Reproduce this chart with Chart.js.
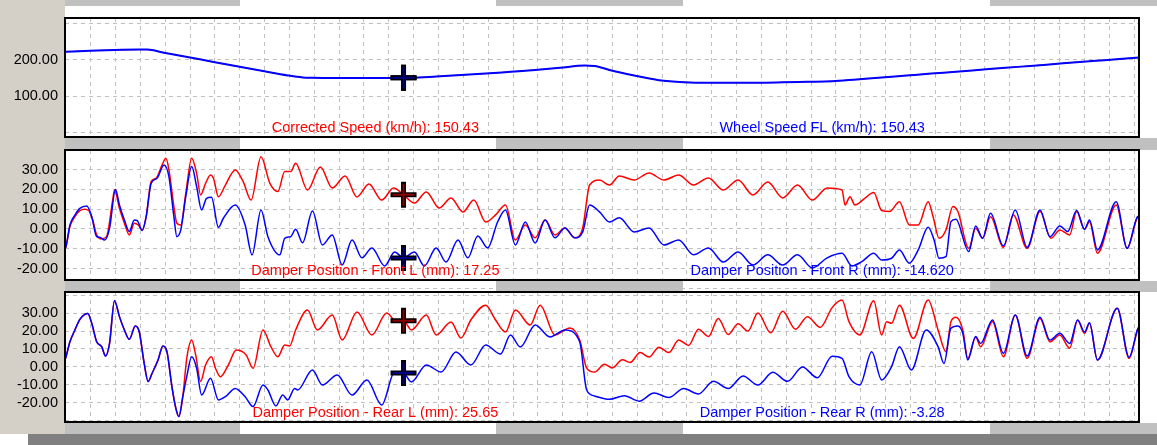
<!DOCTYPE html>
<html>
<head>
<meta charset="utf-8">
<script src="https://cdn.jsdelivr.net/npm/chart.js@4.4.1/dist/chart.umd.min.js"></script>
<style>
    body { margin: 0; width: 1157px; height: 445px; background: #fff; position: relative; overflow: hidden; }
    .blk { position: absolute; }
    canvas { position: absolute; left: 0; top: 0; }
</style>
</head>
<body>
<!-- left gutter, range strips and status bar -->
<div class="blk" style="left:0;top:0;width:65px;height:434px;background:#d4d0c8"></div>
<div class="blk" style="left:65px;top:0;width:175px;height:6px;background:#c0c0c0"></div>
<div class="blk" style="left:496px;top:0;width:187px;height:6px;background:#c0c0c0"></div>
<div class="blk" style="left:990px;top:0;width:167px;height:6px;background:#c0c0c0"></div>
<div class="blk" style="left:65px;top:138px;width:175px;height:12px;background:#c0c0c0"></div>
<div class="blk" style="left:496px;top:138px;width:187px;height:12px;background:#c0c0c0"></div>
<div class="blk" style="left:990px;top:138px;width:167px;height:12px;background:#c0c0c0"></div>
<div class="blk" style="left:65px;top:281px;width:175px;height:11px;background:#c0c0c0"></div>
<div class="blk" style="left:496px;top:281px;width:187px;height:11px;background:#c0c0c0"></div>
<div class="blk" style="left:990px;top:281px;width:167px;height:11px;background:#c0c0c0"></div>
<div class="blk" style="left:65px;top:423px;width:175px;height:11px;background:#c0c0c0"></div>
<div class="blk" style="left:496px;top:423px;width:187px;height:11px;background:#c0c0c0"></div>
<div class="blk" style="left:990px;top:423px;width:167px;height:11px;background:#c0c0c0"></div>
<div class="blk" style="left:28px;top:434px;width:1129px;height:11px;background:#808080"></div>

<canvas id="speedChart" width="1157" height="445"></canvas>
<canvas id="frontChart" width="1157" height="445"></canvas>
<canvas id="rearChart" width="1157" height="445"></canvas>

<script>
// x = logged sample number (50 Hz), cursor sits at sample 342
const cursorSample = 342;
const sampleCount = 1085;

const speedSample = [0, 25, 50, 75, 83, 100, 125, 150, 175, 200, 225, 240, 250, 275, 300, 325, 350, 375, 400, 425, 450, 475, 500, 525, 535, 550, 575, 600, 625, 650, 675, 700, 725, 750, 775, 800, 825, 850, 875, 900, 925, 950, 975, 1000, 1025, 1050, 1075, 1085];
const speedKmh = [222, 225, 227, 228, 228, 219.5, 207, 194, 181.5, 169, 157, 151.5, 150.5, 150, 150, 150, 150.5, 154, 158, 162, 167, 172, 178, 184, 183, 172, 157, 144, 138.5, 137, 137, 137, 138, 139.5, 141, 146, 151, 156.5, 162, 167, 172.5, 178, 183, 188.5, 194, 199, 204, 206];

const frontLSample = [0, 1, 5, 10, 15, 20, 24, 28, 32, 37, 42, 48, 50, 55, 60, 65, 70, 74, 78, 82, 87, 92, 98, 102, 105, 110, 113, 117, 122, 128, 133, 137, 142, 147, 150, 155, 162, 172, 180, 188, 198, 207, 215, 222, 228, 233, 245, 258, 270, 283, 295, 307, 320, 332, 342, 353, 365, 378, 390, 402, 413, 425, 435, 445, 455, 465, 475, 485, 495, 505, 515, 523, 530, 540, 550, 560, 575, 590, 605, 620, 635, 650, 665, 680, 695, 710, 725, 740, 755, 770, 785, 788, 793, 798, 808, 817, 825, 833, 843, 853, 862, 872, 877, 883, 890, 897, 902, 913, 920, 927, 935, 948, 958, 972, 985, 996, 1005, 1015, 1022, 1030, 1035, 1043, 1062, 1073, 1083, 1085];
const frontLMm = [-10, -8.9, 1.2, 6.2, 9.3, 10, 9.3, 4.5, -3, -5, -3.9, 14, 19.7, 10.4, 2.9, -3, 2.9, 2, -0.5, 6.2, 23.9, 25.6, 32.3, 35.7, 29.8, 11.3, 2.9, 2, 18, 35.7, 28, 17.2, 23, 27.3, 25.6, 16.3, 22.2, 29.8, 23.9, 14.6, 36.5, 23, 18.9, 29, 29, 33.2, 19.7, 31.3, 20.7, 26.8, 16.2, 22.7, 14.6, 20.7, 17.25, 13.1, 18.7, 10.6, 15.7, 8.6, 14.6, 3.5, 7.1, 12.1, -5.6, 2, -4.5, 4.5, -3, 0.5, -4.5, 0.5, 22.2, 24.7, 22.2, 26.8, 24.7, 28.3, 24.7, 27.3, 22.2, 25.8, 19.7, 24.7, 17.2, 23.7, 15.7, 22.2, 14.6, 20.7, 19.7, 12.1, 16.3, 12.1, 15.5, 18.4, 9.3, 8.8, 13.8, 2, 2, 13.8, 6.2, -4.7, -0.5, 11.3, 8.8, -9.8, 0.3, -4.7, 6.2, -9.3, 7.1, -9.8, 8.8, -4.7, -0.5, -3, 8.8, -0.2, 3.7, -12.3, 12.1, -9.8, 5.4, 6];

const frontRSample = [0, 1, 5, 10, 15, 22, 27, 32, 35, 40, 45, 51, 55, 60, 65, 70, 73, 78, 82, 87, 93, 100, 105, 110, 113, 117, 122, 128, 133, 138, 143, 148, 155, 160, 172, 182, 189, 198, 205, 217, 222, 228, 233, 240, 250, 260, 270, 280, 290, 300, 310, 323, 333, 342, 353, 363, 375, 385, 397, 407, 417, 427, 437, 445, 455, 465, 475, 485, 495, 505, 515, 523, 530, 540, 550, 560, 575, 590, 605, 620, 635, 650, 665, 680, 695, 710, 725, 740, 755, 770, 785, 795, 805, 817, 825, 835, 843, 853, 862, 872, 878, 883, 890, 895, 900, 913, 920, 927, 935, 948, 960, 972, 985, 995, 1005, 1013, 1022, 1030, 1035, 1043, 1062, 1073, 1083, 1085];
const frontRMm = [-10, -8.9, 2, 7, 10.4, 11.6, 6.2, -3.9, -4.2, -5.6, 0.3, 20, 12.1, 4.5, -1.3, 4.5, 4.2, -0.8, 6.2, 23, 25.6, 32.3, 26.4, 6.2, -3.9, -0.5, 16.3, 31.5, 21.4, 9.6, 15.5, 16, 0.8, 5.4, 12.1, 2, -13.1, 9.6, -3.9, -13.1, -4.7, -3.9, -0.2, -7, 9.1, -8.1, -3, -18.2, -5.6, -14.6, -9.6, -18.7, -11.6, -14.62, -11.6, -18.7, -9.6, -16.7, -5.6, -14.6, -3.5, -9.6, 3.5, 9.6, -8.1, 3.5, -7.1, 4.5, -4.5, 0.5, -4.5, -1.5, 12.1, 8.6, 3.5, 5.6, -1.5, 0.5, -8.1, -5.6, -13.1, -9.6, -16.7, -11.6, -18.2, -13.1, -18.2, -13.1, -19.7, -14.6, -12.3, -18.7, -16.5, -12.3, -15.7, -14.8, -10.6, -17.3, -10.6, 0.8, -5.6, -14.8, -14, 3.7, 4.9, -11.4, 1.5, -4.7, 7.9, -8.6, 9.6, -9.3, 9.6, -3.9, 1.5, -1.3, 9.3, -0.2, 4.5, -10.6, 13.8, -9.8, 5.9, 6.5];

const rearLSample = [0, 1, 5, 10, 15, 20, 23, 27, 32, 37, 41, 45, 50, 55, 60, 65, 71, 75, 80, 84, 88, 94, 99, 103, 108, 112, 115, 119, 123, 128, 132, 137, 142, 148, 152, 157, 165, 173, 183, 190, 200, 208, 215, 222, 227, 233, 245, 255, 270, 280, 295, 310, 325, 335, 342, 350, 365, 375, 390, 400, 410, 425, 435, 445, 455, 470, 480, 495, 510, 520, 527, 535, 545, 553, 563, 571, 581, 590, 600, 610, 620, 630, 640, 650, 660, 670, 680, 690, 700, 713, 725, 738, 750, 763, 775, 785, 792, 803, 817, 825, 830, 835, 843, 857, 872, 882, 890, 895, 900, 907, 912, 920, 925, 937, 948, 960, 972, 985, 995, 1005, 1015, 1023, 1030, 1035, 1043, 1063, 1075, 1084, 1085];
const rearLMm = [4, 5.7, 14, 20.6, 26.5, 29.3, 29.8, 24.3, 14, 11.3, 6.1, 13.1, 36.9, 28, 20.6, 15.4, 22.8, 19.6, 2, -8.1, -3.5, 3.9, 11.7, 8.5, -10.9, -23, -27.6, -16.5, 4.8, 15, 6.7, -8.1, 1.1, 5.7, -0.7, -5.4, 1.1, 9.4, 6.7, -0.7, 20.6, 11.3, 5.7, 12.2, 11.7, 20.6, 31.7, 20.6, 28.9, 15, 30.6, 17.8, 30, 25, 25.65, 20.6, 28.9, 17.8, 25, 16.1, 26.1, 34.4, 26.1, 19.4, 31.7, 23.3, 34.4, 17.8, 21.7, 15, -0.6, -2.8, 1.5, -0.5, 4, 2.5, 8, 5.5, 11, 8, 15, 12, 21, 17, 27, 18, 24, 20, 30, 19, 31, 21, 28, 22, 33, 37.2, 25.2, 17.8, 36.9, 17.8, 25.2, 24.3, 34.4, 15.9, 37.2, 20.6, 8.5, 25.2, 27.6, 20.6, 4.8, 16.5, 11.3, 25.2, 5.7, 28.9, 4.8, 27, 14, 17.8, 10.4, 26.1, 18.7, 24.3, 3.9, 32.6, 4.8, 21.5, 22];

const rearRSample = [0, 1, 5, 10, 15, 20, 23, 27, 32, 37, 41, 45, 50, 55, 60, 65, 71, 75, 80, 84, 88, 94, 99, 103, 108, 112, 115, 119, 123, 128, 133, 138, 147, 155, 162, 172, 182, 190, 200, 205, 213, 220, 225, 232, 235, 250, 260, 275, 290, 305, 320, 333, 342, 350, 365, 380, 395, 410, 425, 440, 450, 460, 475, 490, 505, 520, 527, 535, 550, 565, 580, 595, 610, 625, 640, 655, 670, 685, 700, 715, 730, 745, 760, 775, 785, 792, 803, 815, 825, 835, 843, 855, 870, 882, 888, 895, 902, 907, 912, 920, 925, 937, 948, 960, 972, 985, 995, 1005, 1015, 1023, 1030, 1035, 1043, 1063, 1075, 1084, 1085];
const rearRMm = [4, 5.7, 14, 20.6, 26.5, 29.3, 29.8, 24.3, 14, 11.3, 6.1, 13.1, 36.9, 28, 20.6, 15.4, 22.8, 19.6, 2, -8.1, -3.5, 3.9, 11.7, 8.5, -10.9, -23, -27.6, -16.5, -5.4, 5.7, -0.7, -15.6, -6.3, -18.3, -16.5, -11.9, -16.5, -22, -10, -12.8, -21.7, -15.6, -18.3, -11.9, -12.8, -1.7, -10, -4.4, -15.6, -7.2, -21.1, -2.8, -3.28, -8.3, 1.1, -2.8, 8.3, 1.1, 12.2, 7.2, 17.8, 11.1, 23.3, 16.7, 20.6, 13.9, -12.8, -16.1, -18, -16, -19, -14.5, -17, -12, -15, -8, -12, -5, -10, -3, -8, 0, -6, 6, 4.8, -5.4, -10, 8.5, -7.2, 0.2, 11.3, -1.7, 20.6, 11.3, 2, 21.5, 22.8, 18.7, 3.9, 16.9, 13.1, 26.1, 7.6, 28.9, 6.1, 27.6, 15, 18.7, 13.1, 26.1, 19.4, 24.6, 3.9, 32.6, 5.4, 21.5, 22];

// axis ticks (grid lines) and which of them carry a label
const speedGrid = [0, 100, 200, 300];
const speedLabels = [100, 200];
const damperGrid = [-30, -20, -10, 0, 10, 20, 30, 40];
const damperLabels = [-20, -10, 0, 10, 20, 30];

// channel names and the values read at the cursor
const speedNames = ["Corrected Speed (km/h)", "Wheel Speed FL (km/h)"];
const speedReadout = ["150.43", "150.43"];
const frontNames = ["Damper Position - Front L (mm)", "Damper Position - Front R (mm)"];
const frontReadout = ["17.25", "-14.620"];
const rearNames = ["Damper Position - Rear L (mm)", "Damper Position - Rear R (mm)"];
const rearReadout = ["25.65", "-3.28"];

const RED = "#ff0000";
const BLUE = "#0000ff";
const FONT = '"Liberation Sans", Arial, sans-serif';

// vertical grid every ~0.5 s
const xGrid = [];
for (let s = 0.9; s <= sampleCount; s += 25.095) xGrid.push(s);

function toPoints(xs, ys) {
    return xs.map((x, i) => ({ x: x, y: ys[i] }));
}

function lineSet(xs, ys, color, width, order) {
    return {
        data: toPoints(xs, ys),
        borderColor: color,
        borderWidth: width,
        pointRadius: 0,
        fill: false,
        cubicInterpolationMode: "monotone",
        order: order,
    };
}

function crossSet(value, color, radius, width, order) {
    return {
        data: [{ x: cursorSample, y: value }],
        showLine: false,
        pointStyle: "cross",
        pointRadius: radius,
        pointBorderColor: color,
        pointBorderWidth: width,
        borderColor: color,
        order: order,
    };
}

const panelDecor = {
    id: "panelDecor",
    afterDatasetsDraw(chart, args, opts) {
        const { ctx, chartArea: a } = chart;
        ctx.save();
        ctx.font = "14.5px " + FONT;
        ctx.textAlign = "center";
        ctx.textBaseline = "alphabetic";
        opts.texts.forEach((t, i) => {
            ctx.fillStyle = opts.colors[i];
            ctx.fillText(t, a.left + (a.right - a.left) * opts.pos[i], a.bottom - 5);
        });
        ctx.strokeStyle = "#000";
        ctx.lineWidth = 2;
        ctx.strokeRect(a.left, a.top, a.right - a.left, a.bottom - a.top);
        ctx.restore();
    },
};

function makePanel(id, cfg) {
    const datasets = [
        lineSet(cfg.redX, cfg.redY, RED, cfg.redWidth, 1),
        lineSet(cfg.blueX, cfg.blueY, BLUE, cfg.width, 0),
        crossSet(parseFloat(cfg.readout[0]), "#000", 13, 5, -1),
        crossSet(parseFloat(cfg.readout[0]), "#8b0000", 11, 2, -2),
        crossSet(parseFloat(cfg.readout[1]), "#000", 13, 5, -3),
        crossSet(parseFloat(cfg.readout[1]), "#00008b", 11, 2, -4),
    ];
    return new Chart(document.getElementById(id), {
        type: "line",
        data: { datasets: datasets },
        plugins: [panelDecor],
        options: {
            responsive: false,
            animation: false,
            devicePixelRatio: 1,
            events: [],
            layout: { padding: { top: cfg.top, bottom: 445 - cfg.bottom, left: 0, right: 7 } },
            plugins: {
                legend: { display: false },
                tooltip: { enabled: false },
                panelDecor: {
                    texts: cfg.names.map((n, i) => n + ": " + cfg.readout[i]),
                    colors: [RED, BLUE],
                    pos: [0.289, 0.705],
                },
            },
            scales: {
                x: {
                    type: "linear",
                    min: 0,
                    max: sampleCount,
                    afterBuildTicks: (s) => { s.ticks = xGrid.map((v) => ({ value: v })); },
                    afterFit: (s) => { s.paddingLeft = 0; s.paddingRight = 0; },
                    ticks: { display: false },
                    grid: { color: "#c0c0c0", drawTicks: false },
                    border: { display: false, dash: [4, 4] },
                },
                y: {
                    min: cfg.min,
                    max: cfg.max,
                    afterBuildTicks: (s) => { s.ticks = cfg.grid.map((v) => ({ value: v })); },
                    afterFit: (s) => { s.width = 65; s.paddingTop = 0; s.paddingBottom = 0; },
                    ticks: {
                        autoSkip: false,
                        color: "#000",
                        padding: 7,
                        font: { family: FONT, size: 14.5 },
                        callback: (v) => (cfg.labels.includes(v) ? v.toFixed(2) : ""),
                    },
                    grid: { color: "#c0c0c0", drawTicks: false },
                    border: { display: false, dash: [4, 4] },
                },
            },
        },
    });
}

makePanel("speedChart", {
    redX: speedSample, redY: speedKmh, blueX: speedSample, blueY: speedKmh,
    width: 2, redWidth: 1, names: speedNames, readout: speedReadout,
    min: -12.5, max: 315, grid: speedGrid, labels: speedLabels, top: 6, bottom: 137,
});

makePanel("frontChart", {
    redX: frontLSample, redY: frontLMm, blueX: frontRSample, blueY: frontRMm,
    width: 1.5, redWidth: 1.5, names: frontNames, readout: frontReadout,
    min: -25.8, max: 39.9, grid: damperGrid, labels: damperLabels, top: 150, bottom: 280,
});

makePanel("rearChart", {
    redX: rearLSample, redY: rearLMm, blueX: rearRSample, blueY: rearRMm,
    width: 1.5, redWidth: 1.5, names: rearNames, readout: rearReadout,
    min: -30.6, max: 41.7, grid: damperGrid, labels: damperLabels, top: 292, bottom: 422,
});
</script>
</body>
</html>
